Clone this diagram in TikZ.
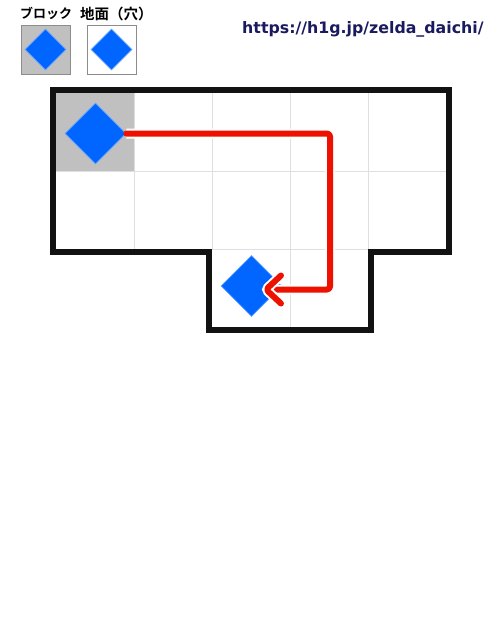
\documentclass[tikz,border=0pt]{standalone}
\usepackage{fontspec}
\newfontfamily\jpfont{Noto Sans CJK JP}[BoldFont={Noto Sans CJK JP Bold}]
\newfontfamily\urlfont{DejaVu Sans}
\usetikzlibrary{shapes.geometric}
\definecolor{blockblue}{HTML}{0066FF}
\definecolor{cellgray}{HTML}{C0C0C0}
\definecolor{arrowred}{HTML}{EE1100}
\definecolor{urlnavy}{HTML}{1A1A5E}

\begin{document}
\begin{tikzpicture}[x=1pt,y=-1pt]
    \tikzstyle{block}=[diamond, fill=blockblue, draw=blockblue!60!white, line width=0.6pt, inner sep=0pt, minimum width=61pt, minimum height=61pt]
    \tikzstyle{legend}=[rectangle, draw=gray!90, line width=0.8pt, minimum size=49pt, inner sep=0pt]
    \tikzstyle{gridline}=[draw=gray!25, line width=0.8pt]
    \tikzstyle{wall}=[draw=black!93, line width=6pt, line join=miter]
    \tikzstyle{route}=[preaction={draw, white, line width=10pt}, draw=arrowred, line width=6pt, line cap=round, line join=round, rounded corners=3pt]
    \tikzstyle{label}=[anchor=west, inner sep=0pt]
    \useasboundingbox (0,0) rectangle (500,625);

    % legend
    \node[label, font=\jpfont\bfseries\fontsize{13}{13}\selectfont] (lblock) at (20,13.5) {ブロック};
    \node[label, font=\jpfont\bfseries\fontsize{14.5}{14.5}\selectfont] (lhole) at (80,13.5) {地面（穴）};
    \node[legend, fill=cellgray] (keyblock) at (45.5,49.5) {};
    \node[legend, fill=white] (keyhole) at (111.5,49.5) {};
    \node[block, minimum width=41pt, minimum height=41pt] at (keyblock) {};
    \node[block, minimum width=41pt, minimum height=41pt] at (keyhole) {};
    \node[label, text=urlnavy, font=\urlfont\bfseries\fontsize{15.8}{15.8}\selectfont] (url) at (242,29) {https://h1g.jp/zelda\_daichi/};

    % floor
    \fill[cellgray] (56,93) rectangle (134,171);
    \foreach \x in {134,212,290,368}
        \draw[gridline] (\x,93) -- (\x,249);
    \draw[gridline] (56,171) -- (446,171);
    \draw[gridline] (212,249) -- (368,249);
    \draw[gridline] (290,249) -- (290,327);
    \draw[wall] (53,90) -- (449,90) -- (449,252) -- (371,252) -- (371,330) -- (209,330) -- (209,252) -- (53,252) -- cycle;

    % blocks
    \node[block] (blk) at (95.5,133.5) {};
    \node[block] (hole) at (251.5,286) {};

    \coordinate (bend1) at (330,133.5);
    \coordinate (bend2) at (330,289.5);
    \coordinate (tip) at (266,289.5);
    \draw[route] (blk.east) -- (bend1) -- (bend2) -- (tip);
    \draw[route] (tip) ++(15,-14) -- (tip) -- ++(15,14);
\end{tikzpicture}
\end{document}
